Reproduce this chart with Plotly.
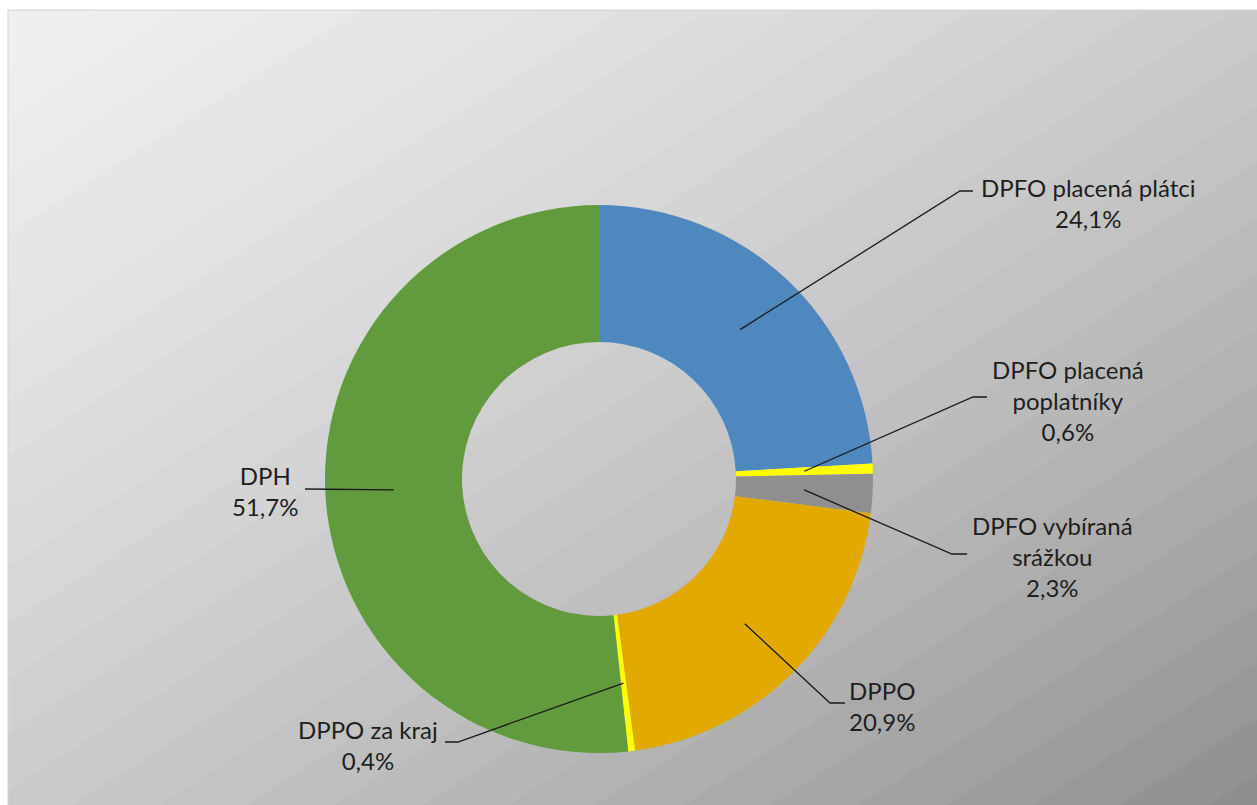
import base64, struct, zlib
import numpy as np
import plotly.graph_objects as go

# ---- data ----
labels = ["DPFO placená plátci", "DPFO placená poplatníky", "DPFO vybíraná srážkou",
          "DPPO", "DPPO za kraj", "DPH"]
values = [24.1, 0.6, 2.3, 20.9, 0.4, 51.7]
label_texts = ["DPFO placená plátci<br>24,1%", "DPFO placená<br>poplatníky<br>0,6%",
               "DPFO vybíraná<br>srážkou<br>2,3%", "DPPO<br>20,9%", "DPPO za kraj<br>0,4%",
               "DPH<br>51,7%"]
colors = ["#4F88BE", "#FFFF00", "#8F8F8F", "#E2AA00", "#FFFF00", "#629A3E"]

# ---- layout constants (pixels) ----
W, H = 1257, 805
CX, CY, R = 599, 479, 274
HOLE = 0.5
BG_X0, BG_Y0 = 8, 10
# label centres and leader-line elbows / ends (layout positions)
label_pos = [(1088, 203), (1068, 400), (1052, 556), (882, 706), (368, 745), (265, 491)]
elbows = [(960, 191), (973, 397), (952, 554), (830, 703), (458, 742), (305, 489)]
ends = [(973, 191), (987, 397), (967, 554), (845, 703), (445, 742), (305, 489)]

# ---- background gradient image ----
bw, bh = W - BG_X0, H - BG_Y0
xx = np.arange(bw)[None, :] / bw
yy = np.arange(bh)[:, None] / bh
u = xx + yy
step = 0.07
uq = np.floor(u / step) * step + step / 2
c = 240 - 25 * uq - 12 * uq ** 2
arr = np.clip(c, 0, 255).astype(np.uint8)


def png_gray(a):
    h, w = a.shape
    raw = b"".join(b"\x00" + a[i].tobytes() for i in range(h))

    def chunk(t, d):
        return struct.pack(">I", len(d)) + t + d + struct.pack(">I", zlib.crc32(t + d) & 0xffffffff)

    ihdr = struct.pack(">IIBBBBB", w, h, 8, 0, 0, 0, 0)
    return (b"\x89PNG\r\n\x1a\n" + chunk(b"IHDR", ihdr)
            + chunk(b"IDAT", zlib.compress(raw, 9)) + chunk(b"IEND", b""))


bg_src = "data:image/png;base64," + base64.b64encode(png_gray(arr)).decode()

fig = go.Figure()
fig.add_trace(go.Pie(
    labels=labels, values=values, sort=False, direction="clockwise", rotation=0,
    hole=HOLE, marker=dict(colors=colors, line=dict(width=0)),
    textinfo="none", hoverinfo="label+percent", showlegend=False,
    domain=dict(x=[(CX - R) / W, (CX + R) / W], y=[1 - (CY + R) / H, 1 - (CY - R) / H]),
))
# invisible trace to activate the pixel-space cartesian axes
fig.add_trace(go.Scatter(x=[0, W], y=[0, H], mode="markers", marker=dict(opacity=0),
                         hoverinfo="skip", showlegend=False))

shapes = [dict(type="rect", xref="paper", yref="paper", x0=BG_X0 / W, x1=1.01,
               y0=-0.01, y1=1 - BG_Y0 / H, line=dict(color="#D4D4D4", width=1), layer="below")]

# leader lines from slice mid-angles (drawn above the pie)
total = sum(values)
rm = R * (1 + HOLE) / 2
cum = 0.0
for i, v in enumerate(values):
    th = 2 * np.pi * (cum + v / 2) / total
    cum += v
    ax_ = CX + rm * np.sin(th)
    ay_ = CY - rm * np.cos(th)
    path = f"M {ax_:.2f},{ay_:.2f} L {elbows[i][0]},{elbows[i][1]} L {ends[i][0]},{ends[i][1]}"
    shapes.append(dict(type="path", xref="x", yref="y", path=path,
                       line=dict(color="#1a1a1a", width=1.3), layer="above"))
    fig.add_annotation(x=label_pos[i][0], y=label_pos[i][1], xref="x", yref="y",
                       text=label_texts[i], showarrow=False, align="center",
                       xanchor="center", yanchor="middle",
                       font=dict(family="Lato, Open Sans, sans-serif", size=24, color="#1e1e1e"))

fig.update_layout(
    width=W, height=H, margin=dict(l=0, r=0, t=0, b=0),
    paper_bgcolor="white", plot_bgcolor="rgba(0,0,0,0)",
    xaxis=dict(range=[0, W], visible=False, fixedrange=True, domain=[0, 1]),
    yaxis=dict(range=[H, 0], visible=False, fixedrange=True, domain=[0, 1]),
    images=[dict(source=bg_src, xref="paper", yref="paper", x=BG_X0 / W, y=1 - BG_Y0 / H,
                 sizex=bw / W, sizey=bh / H, xanchor="left", yanchor="top",
                 sizing="stretch", layer="below")],
    shapes=shapes,
)

fig.write_html("out.html", config={"displayModeBar": False},
               post_script="document.body.style.margin='0';document.body.style.overflow='hidden';")
